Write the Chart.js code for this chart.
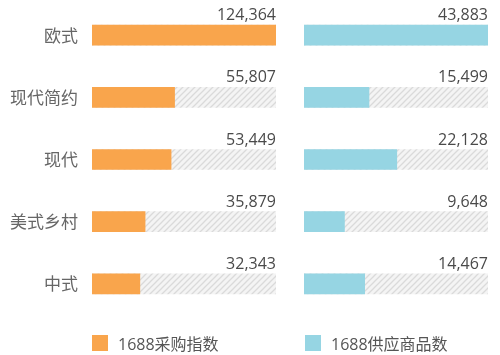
<!DOCTYPE html>
<html>
<head>
<meta charset="utf-8">
<script src="https://cdn.jsdelivr.net/npm/chart.js@4"></script>
<style>
  html, body { margin: 0; padding: 0; background: #fff; }
  #wrap { position: relative; width: 500px; height: 355px; overflow: hidden; background: #fff; }
  #left { position: absolute; left: 0; top: 0; }
  #right { position: absolute; left: 290px; top: 0; }
  .lg { position: absolute; top: 335px; height: 16px; display: flex; align-items: center;
        font-family: "Open Sans", "Noto Sans CJK SC", sans-serif; font-size: 16px; color: #555; white-space: nowrap; }
  .lg i { display: inline-block; width: 16px; height: 16px; margin-right: 10px; }
</style>
</head>
<body>
<div id="wrap">
  <canvas id="left" width="290" height="355"></canvas>
  <canvas id="right" width="210" height="355"></canvas>
  <div class="lg" id="lg0" style="left:92px"><i></i><span></span></div>
  <div class="lg" id="lg1" style="left:305px"><i></i><span></span></div>
</div>
<script>
const categories = ['欧式', '现代简约', '现代', '美式乡村', '中式'];
const purchaseIndex = [124364, 55807, 53449, 35879, 32343];
const supplyCount = [43883, 15499, 22128, 9648, 14467];
const seriesNames = ['1688采购指数', '1688供应商品数'];
const seriesColors = ['#F9A54C', '#96D5E3'];

function hatch() {
  const c = document.createElement('canvas');
  c.width = 6; c.height = 6;
  const g = c.getContext('2d');
  g.fillStyle = '#f4f4f4';
  g.fillRect(0, 0, 6, 6);
  g.strokeStyle = '#dadada';
  g.lineWidth = 1.3;
  g.beginPath();
  g.moveTo(0, 6); g.lineTo(6, 0);
  g.moveTo(-1, 1); g.lineTo(1, -1);
  g.moveTo(5, 7); g.lineTo(7, 5);
  g.stroke();
  return g.createPattern(c, 'repeat');
}

const valueLabels = {
  id: 'valueLabels',
  afterDatasetsDraw(chart) {
    const ctx = chart.ctx;
    const meta = chart.getDatasetMeta(0);
    const data = chart.data.datasets[0].data;
    ctx.save();
    ctx.font = '16px "Open Sans", sans-serif';
    ctx.fillStyle = '#4a4a4a';
    ctx.textAlign = 'right';
    ctx.textBaseline = 'alphabetic';
    meta.data.forEach((el, i) => {
      ctx.fillText(data[i].toLocaleString('en-US'), chart.chartArea.right, el.y - 15);
    });
    ctx.restore();
  }
};

function makeChart(id, values, color, showCats, padding) {
  const maxV = Math.max(...values);
  const yScale = {
    display: showCats,
    grid: { display: false, drawTicks: false },
    border: { display: false },
    ticks: { padding: 14, color: '#666', font: { family: '"Noto Sans CJK SC", sans-serif', size: 17 } }
  };
  if (showCats) {
    yScale.afterFit = (scale) => { scale.width = 92; scale.paddingTop = 0; scale.paddingBottom = 0; };
  }
  return new Chart(document.getElementById(id), {
    type: 'bar',
    data: {
      labels: categories,
      datasets: [
        { data: values, backgroundColor: color, barThickness: 20, grouped: false, order: 0, borderWidth: 0 },
        { data: values.map(() => maxV), backgroundColor: hatch(), barThickness: 20, grouped: false, order: 1, borderWidth: 0 }
      ]
    },
    options: {
      indexAxis: 'y',
      responsive: false,
      animation: false,
      devicePixelRatio: 1,
      layout: { padding: padding },
      plugins: { legend: { display: false }, tooltip: { enabled: false } },
      scales: {
        x: { display: false, min: 0, max: maxV },
        y: yScale
      }
    },
    plugins: [valueLabels]
  });
}

makeChart('left', purchaseIndex, seriesColors[0], true, { top: 4, bottom: 40, left: 0, right: 14 });
makeChart('right', supplyCount, seriesColors[1], false, { top: 4, bottom: 40, left: 14, right: 12 });

['lg0', 'lg1'].forEach((id, i) => {
  const el = document.getElementById(id);
  el.querySelector('i').style.background = seriesColors[i];
  el.querySelector('span').textContent = seriesNames[i];
});
</script>
</body>
</html>
